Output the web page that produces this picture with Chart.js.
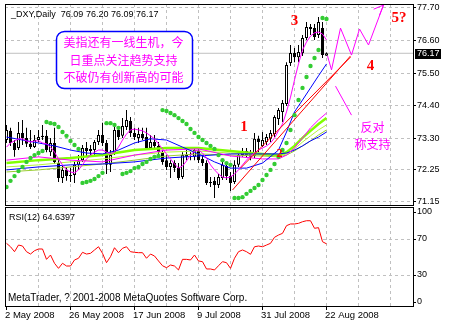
<!DOCTYPE html>
<html>
<head>
<meta charset="utf-8">
<script src="https://cdn.jsdelivr.net/npm/chart.js@4/dist/chart.umd.min.js"></script>
<style>
  html, body { margin: 0; padding: 0; background: #ffffff; }
  #wrap { position: relative; width: 451px; height: 326px; background: #ffffff; }
  #wrap canvas { position: absolute; left: 0; top: 0; }
</style>
</head>
<body>
<div id="wrap">
  <canvas id="price" width="451" height="326"></canvas>
  <canvas id="rsi" width="451" height="326"></canvas>
</div>
<script>
// ---- US Dollar Index, daily bars 2 May 2008 .. 22 Aug 2008 ----
const opens = [73.24,73.55,73.14,72.97,73.48,73.31,73.11,73.00,73.24,73.34,
  73.38,72.83,73.14,72.46,71.96,72.23,72.02,72.06,72.40,72.56,
  72.97,72.87,72.90,73.17,73.41,73.14,72.40,72.83,73.58,73.38,
  73.68,73.88,73.48,73.31,73.44,73.34,72.97,73.17,73.04,72.83,
  72.56,72.33,72.46,72.29,71.99,72.73,72.67,72.67,72.87,72.60,
  72.46,71.79,71.86,71.72,71.96,72.36,72.02,71.82,72.40,72.73,
  72.87,72.77,72.70,73.28,73.04,73.17,73.28,73.44,73.95,74.19,
  74.46,75.84,76.18,76.04,76.18,76.69,77.06,77.02,76.79,77.02,
  76.09];
const highs = [73.75,73.65,73.24,73.85,73.92,73.65,73.58,73.41,73.58,73.75,
  73.58,73.31,73.65,72.56,72.36,72.33,72.29,72.50,72.73,73.07,
  73.17,73.07,73.24,73.58,73.82,73.24,72.90,73.71,73.61,73.98,
  74.25,74.02,73.65,73.65,73.65,73.65,73.41,73.41,73.17,72.90,
  72.73,72.56,72.56,72.46,72.83,72.90,72.83,73.00,72.97,72.73,
  72.56,71.99,71.99,72.09,72.53,72.43,72.16,72.56,72.83,72.97,
  72.97,72.90,73.48,73.38,73.51,73.44,73.58,74.08,74.32,74.59,
  75.87,76.45,76.35,76.45,76.79,77.23,77.16,77.16,77.40,77.23,
  76.20];
const lows = [73.14,73.04,72.67,72.90,73.07,73.00,72.94,72.97,73.17,73.24,
  72.83,72.70,72.43,71.82,71.79,71.86,71.82,71.79,72.23,72.50,
  72.67,72.70,72.73,73.07,73.04,72.09,72.16,72.73,73.24,73.31,
  73.58,73.34,73.24,73.14,73.24,72.90,72.90,72.94,72.77,72.40,
  72.23,71.96,72.16,71.89,71.92,72.56,72.56,72.56,72.46,72.36,
  71.72,71.65,71.28,71.62,71.89,71.89,71.52,71.75,72.33,72.67,
  72.63,72.56,72.63,72.83,73.00,73.07,73.17,73.34,73.75,73.85,
  74.39,75.74,75.87,75.87,76.08,76.62,76.79,76.62,76.69,76.01,
  76.09];
const closes = [73.58,73.14,72.90,73.48,73.31,73.11,73.00,73.24,73.34,73.38,
  72.90,73.14,72.50,71.96,72.23,72.02,72.06,72.40,72.53,72.97,
  72.87,72.94,73.17,73.41,73.14,72.40,72.73,73.58,73.34,73.71,
  73.92,73.48,73.34,73.44,73.31,72.97,73.17,73.04,72.83,72.50,
  72.33,72.46,72.29,71.96,72.73,72.67,72.70,72.90,72.56,72.46,
  71.79,71.82,71.72,71.99,72.40,72.02,71.79,72.40,72.73,72.87,
  72.73,72.67,73.28,73.17,73.24,73.34,73.48,74.02,74.25,74.49,
  75.77,76.18,76.04,76.21,76.69,77.06,76.99,76.72,77.23,76.11,
  76.17];

// Parabolic SAR, one dot per bar
const sar = [71.65,71.86,72.02,72.19,72.33,72.50,72.63,72.73,72.80,72.87,
  73.85,73.81,73.78,73.68,73.51,73.38,73.21,73.07,72.94,71.79,
  71.82,71.86,71.92,72.02,72.13,73.81,73.81,73.75,73.65,72.09,
  72.13,72.19,72.29,72.33,72.43,72.50,72.60,72.67,72.70,74.25,
  74.22,74.15,74.08,73.98,73.88,73.78,73.61,73.48,73.34,73.24,
  73.14,73.04,72.94,72.73,72.56,72.46,72.40,71.28,71.28,71.31,
  71.42,71.52,71.62,71.72,71.89,72.06,72.23,72.43,72.67,72.90,
  73.14,73.58,74.08,74.59,75.00,75.37,75.74,76.01,76.28,77.36,
  77.33];

// fast moving average (magenta), one value per bar
const maFast = [73.00,73.14,73.21,73.28,73.28,73.21,73.17,73.21,73.21,73.14,
  73.11,73.00,72.83,72.60,72.40,72.23,72.16,72.13,72.23,72.40,
  72.60,72.73,72.83,72.90,72.90,72.83,72.77,72.83,73.00,73.24,
  73.44,73.58,73.61,73.58,73.55,73.48,73.38,73.28,73.11,72.94,
  72.77,72.60,72.43,72.29,72.36,72.53,72.73,72.87,72.90,72.80,
  72.63,72.40,72.23,72.09,71.99,71.96,71.99,72.09,72.23,72.40,
  72.56,72.70,72.80,72.90,72.97,73.04,73.14,73.31,73.55,73.78,
  74.19,74.69,75.27,75.81,76.28,76.55,76.75,76.86,76.89,76.82,
  76.62];

// medium average (blue), sampled at these bars
const blueFastIdx = [0,4,8,12,16,20,24,28,32,36,40,44,48,52,56,60,64,68,70,72,74,76,78,80];
const blueFast = [73.34,73.24,73.14,73.04,72.90,72.80,72.77,72.90,73.14,73.28,73.24,73.00,
  72.77,72.50,72.29,72.29,72.46,72.90,73.51,74.19,74.59,75.00,75.41,75.81];

// slow averages, sampled at these bars
const slowIdx = [0,8,16,24,32,40,48,56,64,68,70,72,74,76,78,80];
const blueSlow    = [72.23,72.33,72.40,72.43,72.50,72.63,72.70,72.77,72.77,72.77,72.80,72.90,73.04,73.21,73.34,73.51];
const magentaSlow = [72.56,72.67,72.56,72.50,72.73,72.90,72.94,72.70,72.60,72.60,72.73,72.97,73.31,73.65,73.92,74.15];
const limeA = [72.46,72.56,72.63,72.73,72.90,72.97,72.97,72.87,72.77,72.73,72.83,73.04,73.31,73.55,73.78,73.98];
const limeB = [72.33,72.40,72.50,72.60,72.73,72.83,72.87,72.80,72.73,72.70,72.77,72.94,73.17,73.38,73.58,73.75];
const limeC = [72.16,72.23,72.33,72.43,72.56,72.70,72.77,72.73,72.70,72.67,72.73,72.87,73.04,73.21,73.41,73.58];

// RSI(12)
const rsi = [65.2,61.4,55.9,63.3,62.2,55.9,53.3,57.0,58.9,58.9,
  47.4,52.2,43.0,37.4,43.0,40.0,40.0,46.7,48.6,55.2,
  53.3,54.1,57.8,61.4,54.1,43.7,50.3,60.3,54.8,59.7,
  61.4,55.9,55.2,54.8,54.8,48.6,53.3,51.1,45.6,40.3,
  38.1,41.1,40.0,35.6,47.4,47.4,46.7,52.2,45.6,44.8,
  36.7,36.7,35.6,40.3,44.8,43.7,37.4,48.6,55.9,57.8,
  55.9,53.0,61.4,62.2,61.4,63.3,65.2,71.9,74.4,76.3,
  84.8,86.7,86.7,87.4,89.2,90.3,90.3,81.9,82.6,67.0,
  64.6397];

// hand-drawn objects: [bar, price] points
const trendA = [[56.5, 71.55], [86, 76.08]];
const trendB = [[58.5, 72.29], [86, 76.04]];
const zigzag = [[80.25, 76.08], [81.25, 75.61], [83.5, 77.02], [86.25, 76.11], [88.25, 76.99], [90.5, 76.45], [94.25, 77.80]];
const arrowHead = [[91.8, 77.66], [94.25, 77.80], [93.25, 77.46]];
const dropLine = [[82.25, 75.06], [86.25, 74.08]];

// axes
const priceTicks = [77.70, 76.60, 75.50, 74.40, 73.30, 72.25, 71.15];
const rsiTicks = [0, 30, 70, 100];
const gridIdx = [0, 8, 16, 24, 32, 40, 48, 56, 64, 72, 80, 88, 96];
const dateIdx = [0, 16, 32, 48, 64, 80];
const dateLabels = ['2 May 2008', '26 May 2008', '17 Jun 2008', '9 Jul 2008', '31 Jul 2008', '22 Aug 2008'];

// ---- drawing ----
const X_MIN = -0.375, X_MAX = 101.625;
const P_MIN = 71.044, P_MAX = 77.835;
const GRID = '#C0C0C0';
const CLEAR = 'rgba(0,0,0,0)';
Chart.defaults.font.family = '"Liberation Sans", Arial, sans-serif';
Chart.defaults.font.size = 9;
Chart.defaults.color = '#000000';

const last = closes.length - 1;
const bars = closes.map((_, i) => i);
const pairPts = arr => arr.map(([x, y]) => ({ x, y }));
const idxPts = (idx, vals) => idx.map((x, k) => ({ x, y: vals[k] }));
const line = (data, color, width, order) => ({
  type: 'line', data, borderColor: color, borderWidth: width, pointRadius: 0,
  fill: false, tension: 0, order
});

const priceDecor = {
  id: 'priceDecor',
  afterDraw(chart) {
    const { ctx, chartArea: a, scales: { x, y } } = chart;
    ctx.save();
    // frame
    ctx.strokeStyle = '#000000';
    ctx.lineWidth = 1;
    ctx.strokeRect(a.left + 0.5, a.top + 0.5, a.right - a.left, a.bottom - a.top);

    // symbol caption
    ctx.fillStyle = '#000000';
    ctx.font = '9px "Liberation Sans", Arial, sans-serif';
    ctx.textAlign = 'left';
    ctx.textBaseline = 'alphabetic';
    const ohlc = [opens[last], highs[last], lows[last], closes[last]].map(v => v.toFixed(2)).join(' ');
    ctx.fillText('_DXY,Daily  ' + ohlc, 11, 17);

    // comment box
    const bx = x.getPixelForValue(29.25), by = y.getPixelForValue(75.96);
    const bw = 136, bh = 57;
    ctx.beginPath();
    ctx.roundRect(Math.round(bx - bw / 2) + 0.5, Math.round(by - bh / 2) + 0.5, bw, bh, 8);
    ctx.fillStyle = '#FFFFFF';
    ctx.fill();
    ctx.strokeStyle = '#0000FF';
    ctx.lineWidth = 1.5;
    ctx.stroke();
    ctx.fillStyle = '#FF00FF';
    ctx.font = '12px "Noto Sans CJK SC", sans-serif';
    ctx.textAlign = 'center';
    ctx.textBaseline = 'middle';
    ['美指还有一线生机，今', '日重点关注趋势支持', '不破仍有创新高的可能'].forEach((t, k) => {
      ctx.fillText(t, bx, by - 17 + k * 17.5);
    });

    // wave labels
    ctx.fillStyle = '#FF0000';
    ctx.font = 'bold 15px "Liberation Serif", serif';
    [['1', 59.375, 73.68], ['3', 72, 77.26], ['4', 91, 75.72], ['5?', 98.125, 77.35]].forEach(([t, i, p]) => {
      ctx.fillText(t, x.getPixelForValue(i), y.getPixelForValue(p));
    });
    ctx.font = 'bold 12px "Liberation Serif", serif';
    ctx.fillText('2', x.getPixelForValue(68.25), y.getPixelForValue(72.77));

    ctx.fillStyle = '#FF00FF';
    ctx.font = '12px "Noto Sans CJK SC", sans-serif';
    ctx.fillText('反对', x.getPixelForValue(91.5), y.getPixelForValue(73.67));
    ctx.fillText('称支持', x.getPixelForValue(91.5), y.getPixelForValue(73.105));

    // last price tag on the axis
    const py = Math.round(y.getPixelForValue(closes[last]));
    ctx.fillStyle = '#000000';
    ctx.fillRect(a.right + 2, py - 4, 26, 10);
    ctx.fillStyle = '#FFFFFF';
    ctx.font = '9px "Liberation Sans", Arial, sans-serif';
    ctx.textAlign = 'left';
    ctx.fillText(closes[last].toFixed(2), a.right + 4, py + 1);
    ctx.restore();
  }
};

new Chart(document.getElementById('price'), {
  type: 'bar',
  data: {
    datasets: [
      line([{ x: X_MIN, y: closes[last] }, { x: X_MAX, y: closes[last] }], '#C0C0C0', 1, 30),
      {
        type: 'bar', data: bars.map(i => ({ x: i, y: [lows[i], highs[i]] })),
        backgroundColor: '#000000', borderWidth: 0, barThickness: 1, grouped: false,
        inflateAmount: 0, order: 21
      },
      {
        type: 'bar', data: bars.map(i => ({ x: i, y: [opens[i], closes[i]] })),
        backgroundColor: bars.map(i => closes[i] >= opens[i] ? '#FFFFFF' : '#000000'),
        borderColor: '#000000', borderWidth: 1, borderSkipped: false, barThickness: 3,
        grouped: false, inflateAmount: 0, order: 20
      },
      line(idxPts(slowIdx, limeC), '#9ACD32', 1, 14),
      line(idxPts(slowIdx, limeB), '#B5F53A', 1, 13),
      line(idxPts(slowIdx, limeA), '#80FF00', 2.5, 12),
      line(idxPts(slowIdx, blueSlow), '#0000FF', 1, 11),
      line(idxPts(slowIdx, magentaSlow), '#FF00FF', 1, 10),
      line(idxPts(blueFastIdx, blueFast), '#0000FF', 1, 9),
      line(bars.map(i => ({ x: i, y: maFast[i] })), '#FF00FF', 1, 8),
      line(pairPts(trendA), '#FF0000', 1, 6),
      line(pairPts(trendB), '#FF0000', 1, 6),
      line(pairPts(zigzag), '#FF00FF', 1, 5),
      line(pairPts(arrowHead), '#FF00FF', 1, 5),
      line(pairPts(dropLine), '#FF00FF', 1, 5),
      {
        type: 'line', data: bars.map(i => ({ x: i, y: sar[i] })), showLine: false,
        pointRadius: 2.2, pointStyle: 'circle', pointBackgroundColor: '#33CC33',
        pointBorderWidth: 0, order: 4
      }
    ]
  },
  options: {
    responsive: false, animation: false, devicePixelRatio: 1,
    layout: { padding: { left: 5, top: 4, right: 0, bottom: 121 } },
    plugins: { legend: { display: false }, tooltip: { enabled: false } },
    scales: {
      x: {
        type: 'linear', min: X_MIN, max: X_MAX, offset: false,
        grid: { offset: false, drawTicks: false, color: c => (c.tick && c.tick.value === 0) ? CLEAR : GRID },
        border: { display: false, dash: [3, 3] },
        ticks: { display: false },
        afterBuildTicks: s => { s.ticks = gridIdx.map(v => ({ value: v })); },
        afterFit: s => { s.height = 0; s.paddingLeft = 0; s.paddingRight = 0; }
      },
      y: {
        type: 'linear', position: 'right', min: P_MIN, max: P_MAX,
        grid: { color: GRID, tickColor: '#000000', tickLength: 3 },
        border: { display: false, dash: [3, 3] },
        ticks: { padding: 1, font: { size: 9 }, callback: v => Number(v).toFixed(2) },
        afterBuildTicks: s => { s.ticks = priceTicks.map(v => ({ value: v })); },
        afterFit: s => { s.width = 38; s.paddingTop = 0; s.paddingBottom = 0; }
      }
    }
  },
  plugins: [priceDecor]
});

const rsiDecor = {
  id: 'rsiDecor',
  afterDraw(chart) {
    const { ctx, chartArea: a } = chart;
    ctx.save();
    ctx.strokeStyle = '#000000';
    ctx.lineWidth = 1;
    ctx.strokeRect(a.left + 0.5, a.top + 0.5, a.right - a.left, a.bottom - a.top);
    ctx.fillStyle = '#000000';
    ctx.textAlign = 'left';
    ctx.textBaseline = 'alphabetic';
    ctx.font = '9px "Liberation Sans", Arial, sans-serif';
    ctx.fillText('RSI(12) ' + rsi[last].toFixed(4), 9, 220);
    ctx.font = '10px "Liberation Sans", Arial, sans-serif';
    ctx.fillText('MetaTrader, ? 2001-2008 MetaQuotes Software Corp.', 8, 301);
    ctx.restore();
  }
};

new Chart(document.getElementById('rsi'), {
  type: 'line',
  data: {
    datasets: [line(bars.map(i => ({ x: i, y: rsi[i] })), '#FF0000', 1, 1)]
  },
  options: {
    responsive: false, animation: false, devicePixelRatio: 1,
    layout: { padding: { left: 5, top: 207, right: 0, bottom: 0 } },
    plugins: { legend: { display: false }, tooltip: { enabled: false } },
    scales: {
      x: {
        type: 'linear', min: X_MIN, max: X_MAX, offset: false,
        grid: {
          offset: false, tickLength: 4,
          color: c => (c.tick && c.tick.value === 0) ? CLEAR : GRID,
          tickColor: c => (c.tick && dateIdx.includes(c.tick.value)) ? '#000000' : CLEAR
        },
        border: { display: false, dash: [3, 3] },
        ticks: {
          autoSkip: false, maxRotation: 0, minRotation: 0, align: 'start', padding: 0,
          labelOffset: -1.5, font: { size: 9.5 },
          callback: v => { const k = dateIdx.indexOf(v); return k < 0 ? '' : dateLabels[k]; }
        },
        afterBuildTicks: s => { s.ticks = gridIdx.map(v => ({ value: v })); },
        afterFit: s => { s.height = 20; s.paddingLeft = 0; s.paddingRight = 0; }
      },
      y: {
        type: 'linear', position: 'right', min: -4.44, max: 105.56,
        grid: {
          tickColor: '#000000', tickLength: 3,
          color: c => (c.tick && (c.tick.value === 30 || c.tick.value === 70)) ? GRID : CLEAR
        },
        border: { display: false, dash: [3, 3] },
        ticks: { padding: 1, font: { size: 9 } },
        afterBuildTicks: s => { s.ticks = rsiTicks.map(v => ({ value: v })); },
        afterFit: s => { s.width = 38; s.paddingTop = 0; s.paddingBottom = 0; }
      }
    }
  },
  plugins: [rsiDecor]
});
</script>
</body>
</html>
